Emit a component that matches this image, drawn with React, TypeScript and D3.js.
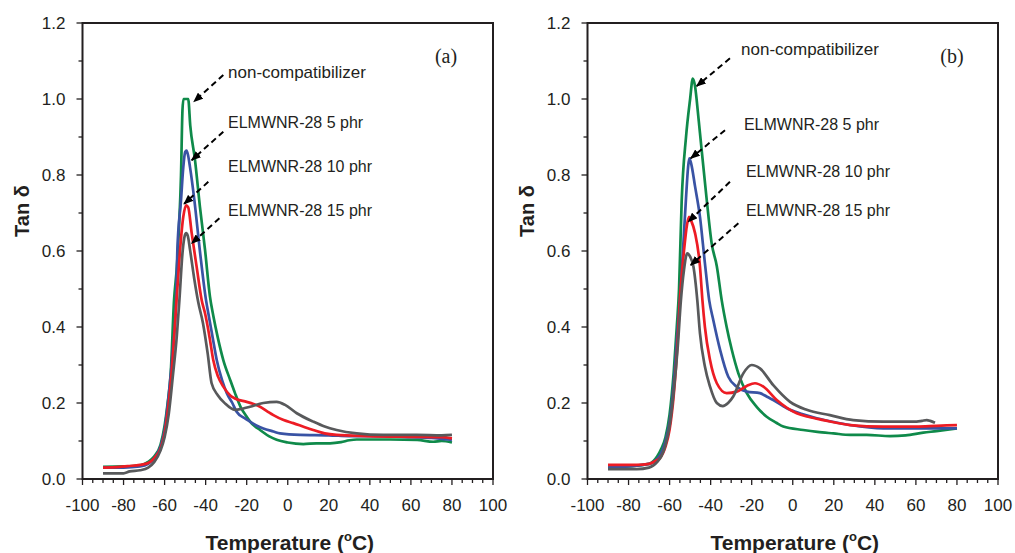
import React from "react";
import * as d3 from "d3";

// ---------- Data ----------
const xTickValues = [-100, -80, -60, -40, -20, 0, 20, 40, 60, 80, 100];
const yTickValues = [0, 0.2, 0.4, 0.6, 0.8, 1.0, 1.2];
const seriesNames = ["non-compatibilizer", "ELMWNR-28 5 phr", "ELMWNR-28 10 phr", "ELMWNR-28 15 phr"];

// Panel (a)
const tA_green = [-90, -80, -72, -68, -65, -62, -60, -58.5, -57, -55.4, -54, -53, -52, -51.3, -50.8, -48.5, -47.5, -45.2, -42.8, -40.3, -37.9, -36.3, -34, -31.4, -28, -25.7, -23, -20, -17, -13.5, -9, -5.4, 0, 7.6, 14, 20.6, 26, 30, 33.6, 50, 63, 70.9, 75, 80];
const vA_green = [0.032, 0.033, 0.036, 0.045, 0.06, 0.09, 0.14, 0.2, 0.28, 0.47, 0.56, 0.66, 0.8, 0.97, 1.0, 1.0, 0.93, 0.84, 0.717, 0.603, 0.48, 0.43, 0.37, 0.313, 0.26, 0.226, 0.19, 0.164, 0.143, 0.129, 0.112, 0.103, 0.096, 0.092, 0.094, 0.094, 0.097, 0.102, 0.104, 0.104, 0.103, 0.098, 0.1, 0.096];

const tA_blue = [-90, -80, -72, -68, -65, -62, -60, -58, -56, -54.4, -53.8, -52, -50.9, -50, -49.3, -48.5, -47.6, -45.5, -42.8, -39.8, -38.7, -36.5, -34.6, -32, -29.7, -27, -24.9, -21, -18.4, -15, -11.9, -7, -3.8, 6, 20, 30, 50, 60, 70, 76, 80];
const vA_blue = [0.03, 0.03, 0.033, 0.04, 0.055, 0.085, 0.13, 0.22, 0.34, 0.47, 0.6, 0.734, 0.82, 0.86, 0.864, 0.85, 0.82, 0.734, 0.6, 0.47, 0.436, 0.37, 0.313, 0.26, 0.226, 0.2, 0.177, 0.16, 0.151, 0.14, 0.133, 0.125, 0.12, 0.116, 0.115, 0.113, 0.112, 0.11, 0.108, 0.105, 0.103];

const tA_red = [-90, -82, -78, -72, -68, -65, -62, -60, -58, -56, -54.2, -53.6, -52.5, -50.9, -49.5, -48.5, -46.8, -44.4, -41.9, -40.3, -38, -36.3, -34, -31.4, -28, -25.7, -20, -17, -13.5, -10, -7, -2, 2.7, 8, 12.4, 18, 23.8, 38.5, 60, 75, 80];
const vA_red = [0.03, 0.032, 0.034, 0.037, 0.042, 0.055, 0.08, 0.12, 0.2, 0.32, 0.47, 0.515, 0.6, 0.69, 0.72, 0.715, 0.647, 0.559, 0.47, 0.436, 0.37, 0.313, 0.27, 0.243, 0.22, 0.212, 0.203, 0.198, 0.19, 0.178, 0.168, 0.155, 0.147, 0.137, 0.129, 0.12, 0.116, 0.113, 0.111, 0.11, 0.107];

const tA_grey = [-90, -80, -77, -72, -68, -65, -62, -60, -58, -56, -54, -52.8, -51.2, -50.2, -49.5, -48.7, -47.6, -45.5, -43.6, -41.3, -39, -37.1, -34, -30.6, -25.7, -22, -18.4, -11.9, -5.4, -1.3, 4.4, 12.4, 18, 23.8, 33.6, 46.6, 62.8, 75, 80];
const vA_grey = [0.015, 0.015, 0.02, 0.023, 0.03, 0.045, 0.075, 0.11, 0.17, 0.27, 0.38, 0.47, 0.6, 0.64, 0.647, 0.64, 0.603, 0.525, 0.465, 0.41, 0.33, 0.252, 0.22, 0.199, 0.182, 0.185, 0.19, 0.2, 0.203, 0.195, 0.173, 0.151, 0.138, 0.129, 0.12, 0.116, 0.116, 0.115, 0.116];

// Panel (b)
const tB_green = [-90, -70, -66, -64, -62, -60, -58, -56.5, -55.4, -54.1, -52, -50, -48.7, -47.5, -46.8, -45.2, -41.9, -39.5, -37, -34.6, -32.2, -29.7, -26.5, -22.4, -17.6, -12.7, -8, -4.6, 5.1, 12, 19.8, 28, 36, 47.4, 55, 63.6, 70, 80];
const vB_green = [0.03, 0.04, 0.06, 0.08, 0.11, 0.17, 0.28, 0.4, 0.5, 0.734, 0.9, 1.0, 1.054, 1.03, 0.997, 0.91, 0.734, 0.62, 0.56, 0.47, 0.4, 0.34, 0.278, 0.226, 0.19, 0.164, 0.148, 0.138, 0.129, 0.124, 0.12, 0.116, 0.116, 0.113, 0.115, 0.122, 0.126, 0.133];

const tB_blue = [-90, -70, -65, -62, -60, -58, -56, -55, -53.5, -52, -51, -50.4, -49.5, -47.6, -45.2, -42.8, -40.7, -38.7, -35.4, -31.4, -27.3, -22.4, -16, -12, -9.5, -1.3, 5, 11.7, 20, 27.9, 44.1, 60, 80];
const vB_blue = [0.03, 0.04, 0.06, 0.1, 0.15, 0.25, 0.4, 0.47, 0.6, 0.74, 0.82, 0.844, 0.83, 0.77, 0.69, 0.568, 0.47, 0.418, 0.34, 0.269, 0.243, 0.23, 0.226, 0.215, 0.208, 0.182, 0.17, 0.16, 0.15, 0.142, 0.133, 0.133, 0.133];

const tB_red = [-90, -76, -70, -66, -64.7, -62, -60, -58, -56, -55, -53, -51.5, -50.5, -49.5, -47.6, -45.2, -44, -42.8, -40.3, -37, -32.2, -27.3, -22.4, -18.4, -14.3, -7.8, 1.9, 8, 14.9, 27.9, 44.1, 60, 70, 80];
const vB_red = [0.037, 0.037, 0.04, 0.05, 0.055, 0.085, 0.13, 0.22, 0.37, 0.47, 0.6, 0.67, 0.69, 0.68, 0.647, 0.559, 0.47, 0.4, 0.313, 0.252, 0.226, 0.23, 0.245, 0.252, 0.243, 0.208, 0.173, 0.163, 0.155, 0.142, 0.138, 0.138, 0.14, 0.142];

const tB_grey = [-90, -76, -70, -66, -64, -62, -60, -58, -56, -54.5, -53, -51.4, -50, -48.4, -46.5, -45.2, -42.8, -40.3, -37, -34.1, -31.5, -29, -24.1, -20, -16, -9.5, -1.3, 6.8, 18.1, 29.5, 44.1, 60.4, 63, 65.3, 67, 69.3];
const vB_grey = [0.026, 0.026, 0.03, 0.045, 0.06, 0.09, 0.14, 0.23, 0.35, 0.47, 0.55, 0.594, 0.585, 0.559, 0.47, 0.383, 0.296, 0.243, 0.2, 0.192, 0.2, 0.217, 0.278, 0.3, 0.291, 0.247, 0.203, 0.182, 0.168, 0.155, 0.151, 0.151, 0.153, 0.155, 0.153, 0.148];

// Annotation anchors (data coordinates): [startT, startV, tipT, tipV]
const arrowsA = [[-31.4, 1.063, -45.7, 0.993], [-31.4, 0.914, -46.8, 0.839], [-38.7, 0.782, -50.5, 0.724], [-33.3, 0.686, -46.8, 0.62]];
const labelPosA = [[-29.1, 1.054], [-29.1, 0.925], [-29.1, 0.809], [-29.1, 0.693]];
const arrowsB = [[-30.6, 1.107, -46.8, 1.034], [-33.0, 0.918, -49.7, 0.844], [-30.6, 0.782, -50.9, 0.677], [-26.5, 0.673, -49.7, 0.563]];
const labelPosB = [[-25.2, 1.116], [-23.8, 0.918], [-22.8, 0.796], [-22.8, 0.692]];

const colors = ["#0f8a4a", "#3953a4", "#ed1c24", "#58595b"];

// ---------- Chart ----------
const W = 1015, H = 553;
const TOP = 23, BOTTOM = 479;

function Panel({ x0, x1, temps, vals, arrows, labelPos, tag, tagX }) {
  const x = d3.scaleLinear().domain([-100, 100]).range([x0, x1]);
  const y = d3.scaleLinear().domain([0, 1.2]).range([BOTTOM, TOP]);
  const line = d3.line().x((d) => x(d[0])).y((d) => y(d[1])).curve(d3.curveMonotoneX);
  const minorX = d3.range(-100, 100.1, 5);
  const minorY = d3.range(0, 1.201, 0.1);
  const axisCol = "#231f20";
  return (
    <g>
      {temps.map((t, i) => (
        <path key={i} d={line(t.map((tt, j) => [tt, vals[i][j]]))} fill="none" stroke={colors[i]} strokeWidth={2.7} strokeLinejoin="round" />
      ))}
      <rect x={x0} y={TOP} width={x1 - x0} height={BOTTOM - TOP} fill="none" stroke={axisCol} strokeWidth={2} />
      {minorX.map((v) => {
        const major = Math.abs(v % 20) < 1e-6;
        return <line key={"mx" + v} x1={x(v)} x2={x(v)} y1={BOTTOM} y2={BOTTOM + (major ? 6 : 4)} stroke={axisCol} strokeWidth={1.3} />;
      })}
      {minorY.map((v) => {
        const major = Math.abs((v * 10) % 2) < 1e-6 || Math.abs((v * 10) % 2 - 2) < 1e-6;
        return <line key={"my" + v} x1={x0 - (major ? 6 : 4)} x2={x0} y1={y(v)} y2={y(v)} stroke={axisCol} strokeWidth={1.3} />;
      })}
      {xTickValues.map((v) => (
        <text key={"xt" + v} x={x(v)} y={511} textAnchor="middle" fontFamily="Liberation Sans, Arial, sans-serif" fontSize={17} fill="#231f20">{v}</text>
      ))}
      {yTickValues.map((v) => (
        <text key={"yt" + v} x={x0 - 17} y={y(v)} dy="0.35em" textAnchor="end" fontFamily="Liberation Sans, Arial, sans-serif" fontSize={17} fill="#231f20">{v.toFixed(1)}</text>
      ))}
      <text x={(x0 + x1) / 2 + 2} y={550} textAnchor="middle" fontFamily="Liberation Sans, Arial, sans-serif" fontWeight="bold" fontSize={21} fill="#231f20">
        Temperature (<tspan fontSize={13} dy={-9}>o</tspan><tspan dy={9}>C)</tspan>
      </text>
      <text transform={`translate(${x0 - 54},${211}) rotate(-90)`} textAnchor="middle" fontFamily="Liberation Sans, Arial, sans-serif" fontWeight="bold" fontSize={20} fill="#231f20">Tan δ</text>
      <text x={tagX} y={63} textAnchor="middle" fontFamily="Liberation Serif, Times New Roman, serif" fontSize={20} fill="#231f20">{tag}</text>
      {arrows.map((a, i) => (
        <line key={"ar" + i} x1={x(a[0])} y1={y(a[1])} x2={x(a[2])} y2={y(a[3])} stroke="#000" strokeWidth={2} strokeDasharray="6,4" markerEnd="url(#arrowhead)" />
      ))}
      {labelPos.map((p, i) => (
        <text key={"lb" + i} x={x(p[0])} y={y(p[1])} fontFamily="Liberation Sans, Arial, sans-serif" fontSize={i === 0 ? 17 : 16} fill="#231f20">{seriesNames[i]}</text>
      ))}
    </g>
  );
}

export default function App() {
  return (
    <svg width={W} height={H} style={{ position: "absolute", left: 0, top: 0, background: "#fff" }}>
      <defs>
        <marker id="arrowhead" markerWidth="10" markerHeight="8" refX="9" refY="4" orient="auto" markerUnits="userSpaceOnUse">
          <path d="M0,0 L10,4 L0,8 Z" fill="#000" />
        </marker>
      </defs>
      <rect x={0} y={0} width={W} height={H} fill="#fff" />
      <Panel x0={82.5} x1={493} temps={[tA_green, tA_blue, tA_red, tA_grey]} vals={[vA_green, vA_blue, vA_red, vA_grey]} arrows={arrowsA} labelPos={labelPosA} tag="(a)" tagX={446} />
      <Panel x0={587.5} x1={998} temps={[tB_green, tB_blue, tB_red, tB_grey]} vals={[vB_green, vB_blue, vB_red, vB_grey]} arrows={arrowsB} labelPos={labelPosB} tag="(b)" tagX={952} />
    </svg>
  );
}
